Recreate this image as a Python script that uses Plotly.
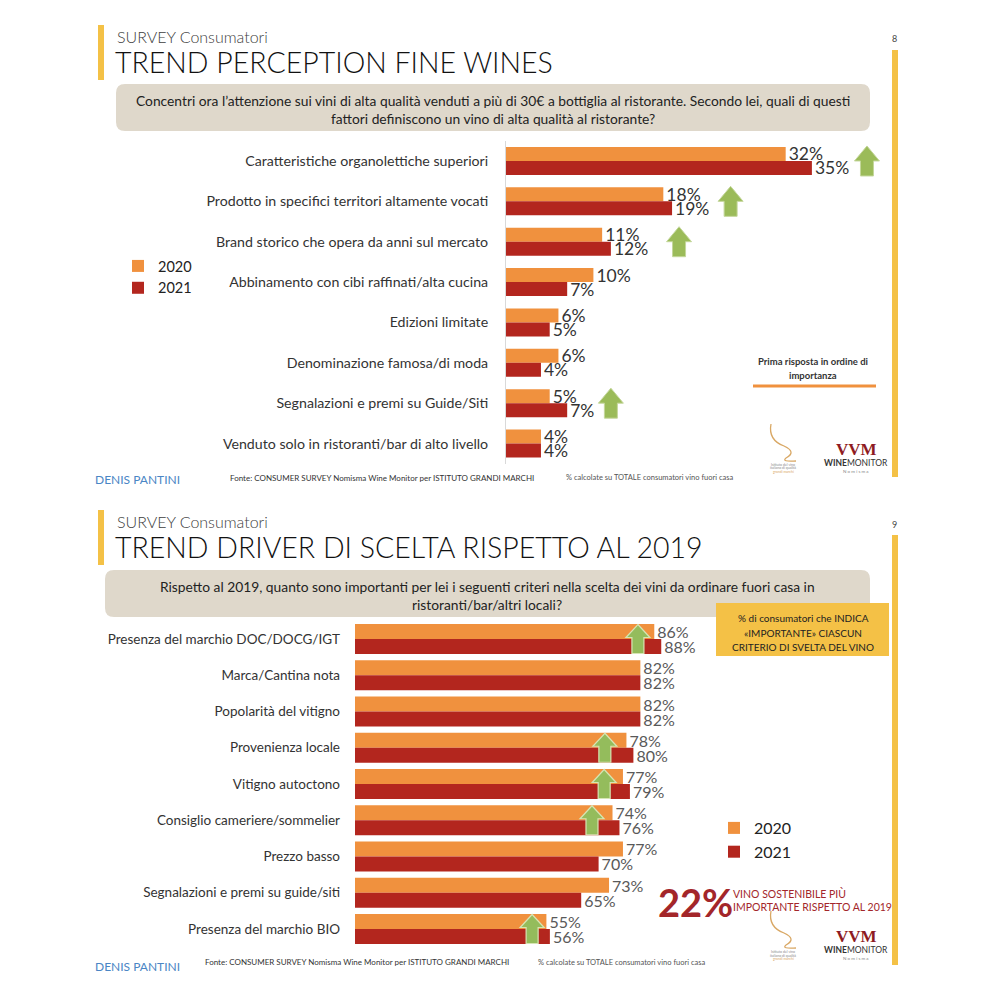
import plotly.graph_objects as go

# ---------------- DATA ----------------
top_categories = [
    "Caratteristiche organolettiche superiori",
    "Prodotto in specifici territori altamente vocati",
    "Brand storico che opera da anni sul mercato",
    "Abbinamento con cibi raffinati/alta cucina",
    "Edizioni limitate",
    "Denominazione famosa/di moda",
    "Segnalazioni e premi su Guide/Siti",
    "Venduto solo in ristoranti/bar di alto livello",
]
top_2020 = [32, 18, 11, 10, 6, 6, 5, 4]
top_2021 = [35, 19, 12, 7, 5, 4, 7, 4]
top_arrow_rows = [0, 1, 2, 6]
top_arrow_x = [41.3, 25.7, 19.8, 12.0]

bot_categories = [
    "Presenza del marchio DOC/DOCG/IGT",
    "Marca/Cantina nota",
    "Popolarità del vitigno",
    "Provenienza locale",
    "Vitigno autoctono",
    "Consiglio cameriere/sommelier",
    "Prezzo basso",
    "Segnalazioni e premi su guide/siti",
    "Presenza del marchio BIO",
]
bot_2020 = [86, 82, 82, 78, 77, 74, 77, 73, 55]
bot_2021 = [88, 82, 82, 80, 79, 76, 70, 65, 56]
bot_arrow_rows = [0, 3, 4, 5, 8]
bot_arrow_x = [81.3, 71.8, 71.6, 68.1, 50.9]

series_names = ["2020", "2021"]

# ---------------- STYLE ----------------
W, H = 1000, 998
C2020 = "#F0913E"
C2021 = "#B3261E"
YELLOW = "#F4C146"
GREYBOX = "#DFD8CB"
DARKRED = "#A3262A"
FONT = "Lato"


def px(x):
    return x / W


def py(y):
    return 1 - y / H


def rrect(x0, y0, x1, y1, r):
    rx, ry = r / W, r / H
    X0, X1, Y0, Y1 = px(x0), px(x1), py(y0), py(y1)
    return (f"M{X0+rx},{Y0} L{X1-rx},{Y0} Q{X1},{Y0} {X1},{Y0-ry} "
            f"L{X1},{Y1+ry} Q{X1},{Y1} {X1-rx},{Y1} L{X0+rx},{Y1} "
            f"Q{X0},{Y1} {X0},{Y1+ry} L{X0},{Y0-ry} Q{X0},{Y0} {X0+rx},{Y0} Z")


def arrow_path(w, h, head_h, shaft_w):
    hw, sw = w / 2, shaft_w / 2
    top, base, bottom = h / 2, h / 2 - head_h, -h / 2
    return (f"M0,{top} L{hw},{base} L{sw},{base} L{sw},{bottom} "
            f"L{-sw},{bottom} L{-sw},{base} L{-hw},{base} Z")


fig = go.Figure()

# ---------------- TOP CHART ----------------
top_w = 0.347
for name, vals, col, off in [(series_names[0], top_2020, C2020, -top_w),
                             (series_names[1], top_2021, C2021, 0.0)]:
    fig.add_trace(go.Bar(
        y=list(range(len(top_categories))), x=vals, orientation="h",
        name=name, marker=dict(color=col, line=dict(width=0)),
        width=top_w, offset=off,
        text=[f"{v}%" for v in vals], textposition="outside",
        textfont=dict(family=FONT, size=17.5, color="#333333"),
        constraintext="none", cliponaxis=False,
        xaxis="x", yaxis="y", legend="legend", hoverinfo="skip",
    ))

# ---------------- BOTTOM CHART ----------------
bot_w = 0.414
for name, vals, col, off in [(series_names[0], bot_2020, C2020, -bot_w),
                             (series_names[1], bot_2021, C2021, 0.0)]:
    fig.add_trace(go.Bar(
        y=list(range(len(bot_categories))), x=vals, orientation="h",
        name=name, marker=dict(color=col, line=dict(width=0)),
        width=bot_w, offset=off,
        text=[f"{v}%" for v in vals], textposition="outside",
        textfont=dict(family=FONT, size=16, color="#595959"),
        constraintext="none", cliponaxis=False,
        xaxis="x2", yaxis="y2", legend="legend2", hoverinfo="skip",
    ))

shapes = []
annotations = []

# arrows
ap_top = arrow_path(25, 30, 15, 13)
for r, xv in zip(top_arrow_rows, top_arrow_x):
    shapes.append(dict(type="path", xref="x", yref="y", xsizemode="pixel", ysizemode="pixel",
                       xanchor=xv, yanchor=r, path=ap_top, fillcolor="#9BBB59",
                       line=dict(color="#C4D79B", width=1), layer="above"))
ap_bot = arrow_path(24, 29, 13, 12)
for r, xv in zip(bot_arrow_rows, bot_arrow_x):
    shapes.append(dict(type="path", xref="x2", yref="y2", xsizemode="pixel", ysizemode="pixel",
                       xanchor=xv, yanchor=r, path=ap_bot, fillcolor="#94BC5C",
                       line=dict(color="#D6E5B4", width=1.2), layer="above"))


def rect(x0, y0, x1, y1, color):
    shapes.append(dict(type="rect", xref="paper", yref="paper", x0=px(x0), x1=px(x1),
                       y0=py(y1), y1=py(y0), fillcolor=color, line=dict(width=0), layer="below"))


def text(x, y, s, size, color="#333333", anchor="left", weight="normal", family=FONT):
    annotations.append(dict(xref="paper", yref="paper", x=px(x), y=py(y), text=s,
                            showarrow=False, xanchor=anchor, yanchor="middle",
                            font=dict(family=family, size=size, color=color, weight=weight)))


# slide decorations (both slides)
for dy, num, qx, qlines, qbox in [
    (0, "8", 493, ["Concentri ora l’attenzione sui vini di alta qualità venduti a più di 30€ a bottiglia al ristorante. Secondo lei, quali di questi",
                   "fattori definiscono un vino di alta qualità al ristorante?"], (116, 84, 870, 131)),
    (485, "9", 487, ["Rispetto al 2019, quanto sono importanti per lei i seguenti criteri nella scelta dei vini da ordinare fuori casa in",
                     "ristoranti/bar/altri locali?"], (105, 570, 870, 617)),
]:
    rect(98, 25 + dy, 104, 80 + dy, YELLOW)
    rect(892, 50 + dy, 898, 477 + dy if dy == 0 else 965, YELLOW)
    text(115, 36 + dy, "SURVEY Consumatori", 16, "#404040", weight=300)
    text(894.5, 39 + dy, num, 9, "#444444", anchor="center")
    shapes.append(dict(type="path", xref="paper", yref="paper", path=rrect(*qbox, 9),
                       fillcolor=GREYBOX, line=dict(width=0), layer="below"))
    text(qx, qbox[1] + 16.5, qlines[0], 13.8, "#222222", anchor="center")
    text(qx, qbox[1] + 34, qlines[1], 13.8, "#222222", anchor="center")

text(113, 62, "TREND PERCEPTION FINE WINES", 28.5, "#111111", weight=300)
text(113, 547, "TREND DRIVER DI SCELTA RISPETTO AL 2019", 28.5, "#111111", weight=300)

# top-right note
text(813, 361, "Prima risposta in ordine di", 9.5, "#333333", anchor="center", weight="bold")
text(813, 375, "importanza", 9.5, "#333333", anchor="center", weight="bold")
shapes.append(dict(type="line", xref="paper", yref="paper", x0=px(753), x1=px(876),
                   y0=py(386), y1=py(386), line=dict(color=C2020, width=3)))

# bottom yellow box
rect(716, 603, 889, 656, YELLOW)
for i, s in enumerate(["% di consumatori che INDICA", "«IMPORTANTE» CIASCUN", "CRITERIO DI SVELTA DEL VINO"]):
    text(803, 618 + 14.5 * i, s, 10, "#222222", anchor="center")

# 22% callout
text(656, 902, "22%", 38, DARKRED, weight="bold")
text(731, 893, "VINO SOSTENIBILE PIÙ", 10.5, DARKRED)
text(731, 907, "IMPORTANTE RISPETTO AL 2019", 10.5, DARKRED)

# footers and logos
for dy, fx, px2, fy in [(0, 228, 564, 478), (487, 203, 536, 962 - 487)]:
    text(93, 479 + dy, "DENIS PANTINI", 12, "#4A86C5")
    text(fx, fy + dy, "Fonte: CONSUMER SURVEY Nomisma Wine Monitor per ISTITUTO GRANDI MARCHI", 8, "#333333")
    text(px2, fy + dy, "% calcolate su TOTALE consumatori vino fuori casa", 7.5, "#555555")
    # wine glass logo
    gpath = (f"M{px(771)},{py(424+dy)} Q{px(768)},{py(440+dy)} {px(784)},{py(446+dy)} "
             f"Q{px(797)},{py(452+dy)} {px(786)},{py(458+dy)} Q{px(781)},{py(462+dy)} {px(796)},{py(461+dy)}")
    shapes.append(dict(type="path", xref="paper", yref="paper", path=gpath,
                       line=dict(color="#D9A865", width=1.3)))
    for k, s in enumerate(["Istituto del vino", "italiano di qualità", "grandi marchi"]):
        text(783, 465 + dy + 3.5 * k, s, 3.5, "#8A8A8A" if k < 2 else "#D9A865", anchor="center")
    text(856, 449 + dy, "<b>VVM</b>", 17, "#8E1B22", anchor="center", family="Liberation Serif")
    text(856, 463 + dy, "<b>WINE</b>MONITOR", 8.5, "#333333", anchor="center")
    text(856, 471 + dy, "N o m i s m a", 4.5, "#888888", anchor="center")

# ---------------- LAYOUT ----------------
axis_hidden = dict(showgrid=False, zeroline=False, showticklabels=False, showline=False, ticks="", fixedrange=True)
fig.update_layout(
    width=W, height=H, margin=dict(l=0, r=0, t=0, b=0),
    paper_bgcolor="white", plot_bgcolor="rgba(0,0,0,0)",
    barmode="group",
    font=dict(family=FONT, color="#333333"),
    xaxis=dict(domain=[0.506, 0.506 + 44 * 0.00874], range=[0, 44], anchor="y", **axis_hidden),
    yaxis=dict(domain=[py(463.7), py(140.8)], range=[len(top_categories) - 0.5, -0.5], anchor="x",
               tickvals=list(range(len(top_categories))), ticktext=top_categories,
               showgrid=False, zeroline=False, showline=True, linecolor="#D9D9D9", linewidth=1,
               ticks="", ticklabelstandoff=14, tickfont=dict(family=FONT, size=14.2, color="#333333"),
               fixedrange=True),
    xaxis2=dict(domain=[0.355, 0.355 + 100 * 0.00348], range=[0, 100], anchor="y2", **axis_hidden),
    yaxis2=dict(domain=[py(947.1), py(620.9)], range=[len(bot_categories) - 0.5, -0.5], anchor="x2",
                tickvals=list(range(len(bot_categories))), ticktext=bot_categories,
                showgrid=False, zeroline=False, showline=False,
                ticks="", ticklabelstandoff=14, tickfont=dict(family=FONT, size=13.5, color="#333333"),
                fixedrange=True),
    legend=dict(x=px(118), y=py(250), xanchor="left", yanchor="top", bgcolor="rgba(0,0,0,0)",
                font=dict(family=FONT, size=14.5, color="#222222"), tracegroupgap=0, itemclick=False),
    legend2=dict(x=px(714), y=py(811), xanchor="left", yanchor="top", bgcolor="rgba(0,0,0,0)",
                 font=dict(family=FONT, size=16, color="#222222"), tracegroupgap=0, itemclick=False),
    shapes=shapes, annotations=annotations, showlegend=True,
)

fig.write_html("out.html", config={"displayModeBar": False},
               post_script="document.body.style.margin='0';document.body.style.overflow='hidden';")
